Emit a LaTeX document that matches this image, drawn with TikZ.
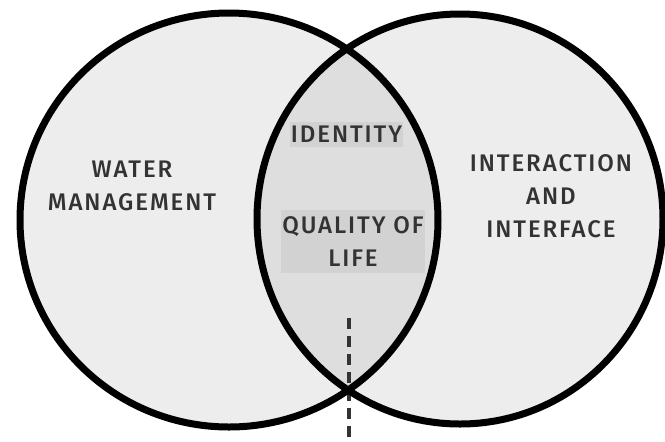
\documentclass[tikz,border=0pt]{standalone}
\usepackage{fontspec}
\setmainfont{Fira Sans}
\newfontfamily\labelfont{Fira Sans Medium}[LetterSpace=8]
\definecolor{ringfill}{HTML}{EDEDED}
\definecolor{lensfill}{HTML}{DEDEDE}
\definecolor{boxfill}{HTML}{D2D2D2}
\definecolor{labelink}{HTML}{333333}
\tikzset{
  ring/.style={line width=3.5pt},
  label text/.style={text=labelink, align=center, inner sep=0pt,
    font=\labelfont\fontsize{12}{16.5}\selectfont},
  label box/.style={label text, fill=boxfill}
}
\begin{document}
\begin{tikzpicture}[line cap=round, line join=round, x=0.5pt, y=-0.5pt]
  \useasboundingbox (0,0) rectangle (665,441);
  \coordinate (water) at (229,220);
  \coordinate (inter) at (460,219);
  % the two circles and their overlap
  \fill[ringfill] (water) ellipse [x radius=209, y radius=207];
  \fill[ringfill] (inter) ellipse [x radius=203, y radius=205];
  \begin{scope}
    \clip (water) ellipse [x radius=209, y radius=207];
    \fill[lensfill] (inter) ellipse [x radius=203, y radius=205];
  \end{scope}
  % labels
  \node[label text] (wm) at (132,186) {WATER\\MANAGEMENT};
  \node[label text] (ia) at (551,196) {INTERACTION\\AND\\INTERFACE};
  \node[label box, minimum width=56.5pt, minimum height=12.5pt] (id) at (346.5,134.5) {IDENTITY};
  \node[label box, minimum width=72pt, minimum height=31.5pt] (ql) at (353,241.5) {QUALITY OF\\LIFE};
  % dashed axis
  \coordinate (axtop) at (349,318);
  \coordinate (axbot) at (349,445);
  \draw[labelink, line width=1.6pt, line cap=butt, dash pattern=on 5.5pt off 3.5pt] (axtop) -- (axbot);
  % outlines
  \draw[ring] (water) ellipse [x radius=209, y radius=207];
  \draw[ring] (inter) ellipse [x radius=203, y radius=205];
\end{tikzpicture}
\end{document}
